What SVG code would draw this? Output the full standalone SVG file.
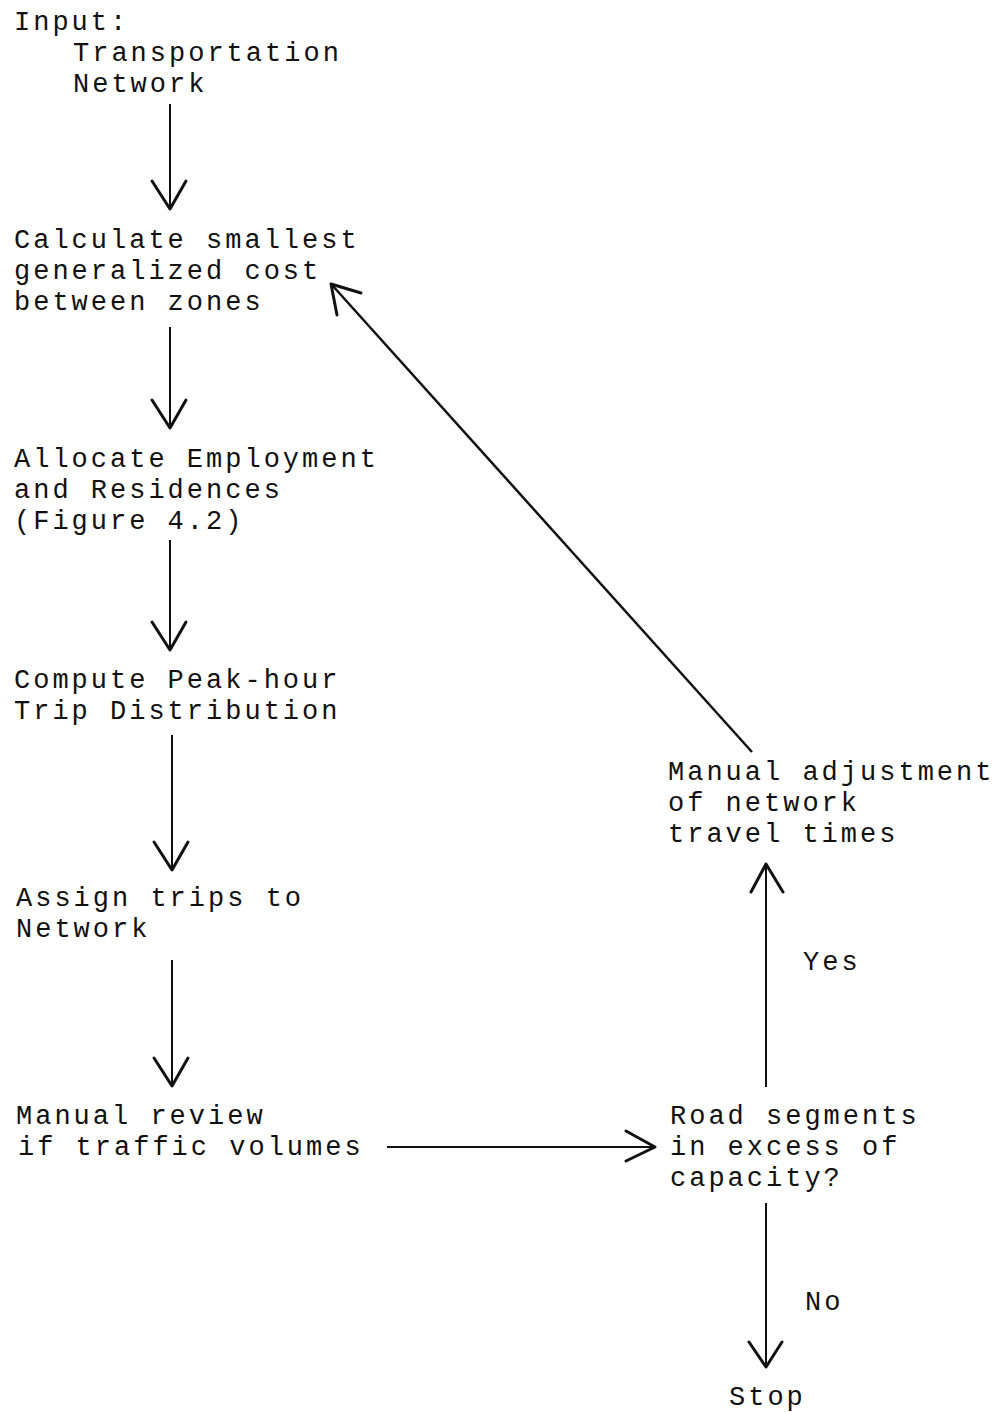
<svg xmlns="http://www.w3.org/2000/svg" width="995" height="1412" viewBox="0 0 995 1412">
  <style>
    text { font-family: "Liberation Mono", "DejaVu Sans Mono", monospace; font-size: 27px; letter-spacing: 3px; fill: #111; }
    .line { stroke: #111; stroke-width: 2; fill: none; }
    .head { stroke: #111; stroke-width: 3; fill: none; stroke-linecap: round; stroke-linejoin: round; }
  </style>
  <rect width="995" height="1412" fill="#fff"/>

  <g id="input">
    <text x="14" y="30">Input:</text>
    <text x="73" y="61">Transportation</text>
    <text x="73" y="92">Network</text>
  </g>
  <g id="calculate">
    <text x="14" y="248">Calculate smallest</text>
    <text x="14" y="279">generalized cost</text>
    <text x="14" y="310">between zones</text>
  </g>
  <g id="allocate">
    <text x="14" y="467">Allocate Employment</text>
    <text x="14" y="498">and Residences</text>
    <text x="14" y="529">(Figure 4.2)</text>
  </g>
  <g id="compute">
    <text x="14" y="688">Compute Peak-hour</text>
    <text x="14" y="719">Trip Distribution</text>
  </g>
  <g id="assign">
    <text x="16" y="906">Assign trips to</text>
    <text x="16" y="937">Network</text>
  </g>
  <g id="review">
    <text x="16" y="1124">Manual review</text>
    <text x="18" y="1155">if traffic volumes</text>
  </g>
  <g id="decision">
    <text x="670" y="1124">Road segments</text>
    <text x="670" y="1155">in excess of</text>
    <text x="670" y="1186">capacity?</text>
  </g>
  <g id="adjust">
    <text x="668" y="780">Manual adjustment</text>
    <text x="668" y="811">of network</text>
    <text x="668" y="842">travel times</text>
  </g>
  <g id="stop">
    <text x="729" y="1405">Stop</text>
  </g>

  <g id="connectors">
    <!-- input to calculate -->
    <line class="line" x1="170" y1="104" x2="170" y2="209"/>
    <polyline class="head" points="152,181 170,209 186,181"/>
    <!-- calculate to allocate -->
    <line class="line" x1="170" y1="327" x2="170" y2="428"/>
    <polyline class="head" points="152,400 170,428 186,400"/>
    <!-- allocate to compute -->
    <line class="line" x1="170" y1="540" x2="170" y2="650"/>
    <polyline class="head" points="152,622 170,650 186,622"/>
    <!-- compute to assign -->
    <line class="line" x1="172" y1="735" x2="172" y2="870"/>
    <polyline class="head" points="154,842 172,870 188,842"/>
    <!-- assign to review -->
    <line class="line" x1="172" y1="960" x2="172" y2="1086"/>
    <polyline class="head" points="154,1058 172,1086 188,1058"/>
    <!-- review to decision -->
    <line class="line" x1="387" y1="1147" x2="655" y2="1147"/>
    <polyline class="head" points="626,1131 655,1147 626,1161"/>
    <!-- decision: yes -->
    <line class="line" x1="766" y1="1087" x2="766" y2="864"/>
    <polyline class="head" points="751,892 766,864 783,892"/>
    <text x="803" y="970">Yes</text>
    <!-- decision: no -->
    <line class="line" x1="766" y1="1203" x2="766" y2="1367"/>
    <polyline class="head" points="749,1342 766,1367 782,1342"/>
    <text x="805" y="1310">No</text>
    <!-- adjustment back to calculate -->
    <line class="line" x1="752" y1="752" x2="332" y2="285" style="stroke-width:2.5"/>
    <polyline class="head" points="361,293 331,284 337,315"/>
  </g>
</svg>
